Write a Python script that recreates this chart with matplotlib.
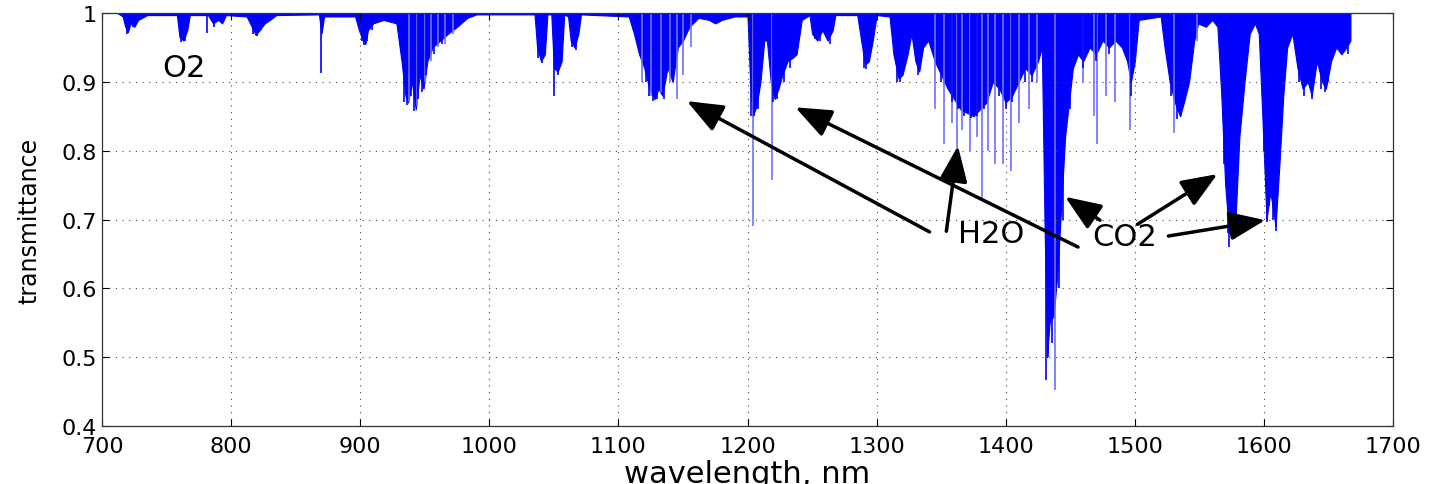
import matplotlib
matplotlib.use('Agg')
import matplotlib.pyplot as plt

plt.rcParams['font.family'] = 'DejaVu Sans'

# lower edge of the dense absorption bands (wavelength nm, transmittance)
band_wl = [712, 716, 718, 720, 722, 725, 728, 735, 758, 760, 763, 766, 768, 782, 786, 790, 793, 796,
           812, 816, 819, 822, 826, 830, 835, 868, 870, 872, 896, 899, 902, 904, 906, 910, 918, 928,
           932, 935, 937, 940, 943, 946, 949, 952, 956, 962, 968, 975, 983, 990, 1035, 1037, 1040,
           1043, 1045, 1048, 1050, 1053, 1056, 1058, 1061, 1063, 1066, 1069, 1071, 1108, 1112, 1116,
           1120, 1124, 1128, 1131, 1134, 1138, 1142, 1146, 1150, 1155, 1162, 1170, 1175, 1180, 1190,
           1200, 1202, 1204, 1207, 1210, 1213, 1215, 1218, 1221, 1224, 1227, 1231, 1235, 1238, 1242,
           1248, 1250, 1254, 1258, 1262, 1266, 1268, 1285, 1288, 1291, 1294, 1297, 1300, 1310, 1313,
           1317, 1320, 1324, 1327, 1330, 1333, 1336, 1340, 1345, 1350, 1355, 1360, 1365, 1370, 1375,
           1380, 1385, 1390, 1395, 1400, 1405, 1410, 1415, 1420, 1425, 1428, 1430, 1432, 1434, 1437,
           1440, 1443, 1446, 1449, 1452, 1456, 1460, 1465, 1470, 1475, 1480, 1485, 1490, 1494, 1497,
           1500, 1503, 1520, 1523, 1527, 1531, 1535, 1538, 1542, 1546, 1549, 1555, 1560, 1564, 1567,
           1570, 1573, 1576, 1578, 1581, 1585, 1589, 1593, 1596, 1599, 1602, 1605, 1609, 1612, 1615,
           1618, 1622, 1626, 1630, 1634, 1637, 1641, 1645, 1648, 1652, 1656, 1660, 1664, 1667]
band_t = [1.0, 0.995, 0.98, 0.972, 0.985, 0.98, 0.99, 0.997, 0.997, 0.965, 0.96, 0.975, 0.997, 0.997,
          0.985, 0.99, 0.985, 0.997, 0.995, 0.98, 0.968, 0.975, 0.985, 0.99, 0.997, 0.998, 0.97, 0.995,
          0.995, 0.975, 0.96, 0.955, 0.975, 0.985, 0.99, 0.985, 0.93, 0.88, 0.87, 0.9, 0.86, 0.91, 0.89,
          0.93, 0.95, 0.96, 0.97, 0.98, 0.993, 0.998, 0.998, 0.95, 0.93, 0.94, 0.998, 0.998, 0.92,
          0.915, 0.93, 0.998, 0.995, 0.96, 0.95, 0.97, 0.998, 0.995, 0.97, 0.94, 0.92, 0.89, 0.875,
          0.89, 0.88, 0.92, 0.9, 0.95, 0.96, 0.98, 0.993, 0.99, 0.985, 0.99, 0.995, 0.995, 0.9, 0.85,
          0.865, 0.9, 0.96, 0.96, 0.9, 0.875, 0.89, 0.91, 0.93, 0.935, 0.94, 0.99, 0.997, 0.97, 0.96,
          0.975, 0.96, 0.975, 0.997, 0.997, 0.96, 0.925, 0.93, 0.96, 0.997, 0.995, 0.94, 0.905, 0.91,
          0.94, 0.97, 0.93, 0.915, 0.95, 0.96, 0.93, 0.91, 0.89, 0.875, 0.86, 0.855, 0.85, 0.86, 0.87,
          0.9, 0.89, 0.87, 0.88, 0.9, 0.92, 0.91, 0.93, 0.95, 0.7, 0.5, 0.55, 0.56, 0.62, 0.72, 0.82,
          0.87, 0.92, 0.94, 0.93, 0.95, 0.94, 0.96, 0.95, 0.96, 0.95, 0.93, 0.9, 0.93, 0.99, 0.995,
          0.95, 0.9, 0.87, 0.85, 0.87, 0.9, 0.96, 0.985, 0.98, 0.99, 0.98, 0.88, 0.75, 0.68, 0.71, 0.7,
          0.82, 0.9, 0.97, 0.985, 0.97, 0.84, 0.7, 0.74, 0.69, 0.78, 0.88, 0.95, 0.97, 0.92, 0.89, 0.9,
          0.88, 0.93, 0.9, 0.89, 0.93, 0.95, 0.94, 0.95, 0.96]

# single strong lines
line_wl = [719, 721, 724, 761, 764, 781, 787, 817, 820, 823, 870, 901, 903, 905, 909, 913, 934, 936,
           939, 942, 945, 948, 951, 957, 963, 1038, 1041, 1050, 1053, 1064, 1067, 1121, 1124, 1127,
           1130, 1135, 1142, 1203, 1205, 1208, 1220, 1223, 1228, 1233, 1252, 1256, 1264, 1290, 1292,
           1316, 1318, 1332, 1350, 1358, 1363, 1368, 1373, 1378, 1383, 1395, 1400, 1405, 1415, 1420,
           1431, 1433, 1436, 1441, 1444, 1450, 1460, 1470, 1480, 1497, 1528, 1533, 1536, 1569, 1572,
           1573, 1575, 1578, 1580, 1600, 1602, 1604, 1607, 1609, 1611, 1627, 1631, 1637, 1644, 1647,
           1650, 1665]
line_t = [0.97, 0.975, 0.98, 0.958, 0.96, 0.971, 0.98, 0.97, 0.966, 0.975, 0.913, 0.96, 0.953, 0.96,
          0.975, 0.985, 0.87, 0.866, 0.88, 0.857, 0.875, 0.885, 0.91, 0.94, 0.955, 0.935, 0.928, 0.88,
          0.91, 0.95, 0.946, 0.9, 0.88, 0.872, 0.875, 0.875, 0.9, 0.85, 0.85, 0.86, 0.87, 0.875, 0.9,
          0.92, 0.962, 0.96, 0.955, 0.92, 0.918, 0.9, 0.9, 0.91, 0.9, 0.87, 0.86, 0.85, 0.847, 0.85,
          0.86, 0.88, 0.86, 0.87, 0.9, 0.9, 0.467, 0.5, 0.52, 0.6, 0.7, 0.86, 0.92, 0.93, 0.94, 0.88,
          0.88, 0.846, 0.85, 0.78, 0.68, 0.66, 0.7, 0.685, 0.78, 0.8, 0.696, 0.72, 0.7, 0.683, 0.75,
          0.9, 0.88, 0.875, 0.89, 0.885, 0.9, 0.94]

# weaker, lighter lines
faint_wl = [938, 944, 950, 955, 960, 966, 972, 1118, 1125, 1133, 1140, 1145, 1150, 1156, 1204, 1219,
            1345, 1352, 1358, 1362, 1366, 1372, 1378, 1382, 1386, 1392, 1398, 1404, 1410, 1418, 1424,
            1438, 1460, 1468, 1471, 1478, 1485, 1496, 1530, 1548]
faint_t = [0.87, 0.865, 0.9, 0.93, 0.95, 0.955, 0.97, 0.9, 0.88, 0.885, 0.9, 0.875, 0.91, 0.95, 0.69,
           0.757, 0.86, 0.81, 0.84, 0.8, 0.83, 0.8, 0.82, 0.73, 0.8, 0.78, 0.78, 0.77, 0.84, 0.86, 0.9,
           0.452, 0.9, 0.85, 0.81, 0.88, 0.87, 0.83, 0.825, 0.96]

# annotations: text, text position, arrow tails and heads
labels = ['O2', 'H2O', 'CO2']
label_x = [747, 1363, 1467]
label_y = [0.921, 0.679, 0.675]
arrow_tail_x = [1341, 1456, 1354, 1473, 1502, 1526]
arrow_tail_y = [0.682, 0.660, 0.683, 0.699, 0.693, 0.676]
arrow_head_x = [1153, 1237, 1363, 1446, 1564, 1601]
arrow_head_y = [0.872, 0.863, 0.807, 0.733, 0.766, 0.699]

fig = plt.figure(figsize=(14.33, 4.85), dpi=100)
ax = fig.add_axes([0.0712, 0.1196, 0.9009, 0.8515])

ax.fill_between(band_wl, band_t, 1, color='#0000ff', linewidth=0.8)
ax.vlines(faint_wl, faint_t, 1, color='#7070ff', linewidth=1.2)
ax.vlines(line_wl, line_t, 1, color='#0000ff', linewidth=1.2)
ax.plot([band_wl[0], band_wl[-1]], [1, 1], color='#0000ff', linewidth=1.5)

for tx, ty, hx, hy in zip(arrow_tail_x, arrow_tail_y, arrow_head_x, arrow_head_y):
    ax.annotate('', xy=(hx, hy), xytext=(tx, ty),
                arrowprops=dict(arrowstyle='-|>,head_length=1.0,head_width=0.4',
                                lw=2.5, color='k', mutation_scale=22, shrinkA=0, shrinkB=0))

for s, x, y in zip(labels, label_x, label_y):
    ax.text(x, y, s, fontsize=22, va='center', ha='left')

ax.set_xlim(700, 1700)
ax.set_ylim(0.4, 1)
ax.set_xticks(range(700, 1701, 100))
ax.set_yticks([0.4, 0.5, 0.6, 0.7, 0.8, 0.9, 1.0])
ax.set_yticklabels(['0.4', '0.5', '0.6', '0.7', '0.8', '0.9', '1'])
ax.tick_params(direction='in', length=5, width=0.8, labelsize=16, top=True, right=True)
ax.tick_params(axis='x', pad=7)
ax.grid(True, color='#444444', linestyle=(0, (1, 5)), linewidth=0.8)
for sp in ax.spines.values():
    sp.set_linewidth(0.9)
    sp.set_color('#333333')

ax.set_ylabel('transmittance', fontsize=17)
ax.yaxis.set_label_coords(-0.047, 0.5)
ax.set_xlabel('wavelength, nm', fontsize=22)
ax.xaxis.set_label_coords(0.5, -0.08)

plt.savefig('out.png', dpi=100)
